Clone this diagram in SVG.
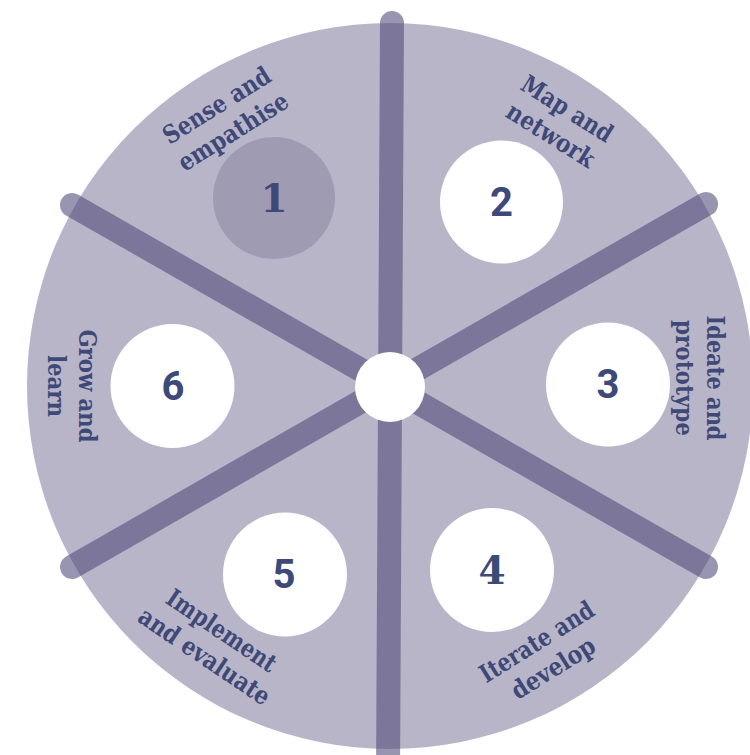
<svg xmlns="http://www.w3.org/2000/svg" width="750" height="755" viewBox="0 0 750 755">
<style>
.lbl{font-family:"DejaVu Serif","Liberation Serif",serif;font-weight:bold;font-size:25px;fill:#3f4977;text-anchor:middle}
.num{font-family:Roboto,"Liberation Sans",sans-serif;font-weight:bold;font-size:40px;fill:#3f4977;text-anchor:middle}
.nums{font-family:"DejaVu Serif","Liberation Serif",serif;font-weight:bold;font-size:39px;fill:#3f4977;text-anchor:middle}
.spoke{stroke:#534f7c;stroke-opacity:0.6;stroke-width:24;stroke-linecap:round;fill:none}
.disc{fill:#ffffff}
</style>
<rect width="750" height="755" fill="#ffffff"/>
<circle id="wheel" cx="390" cy="386" r="363" fill="#b8b5c9"/>
<g id="connectors">
<line class="spoke" x1="392" y1="23" x2="388" y2="775"/>
<line class="spoke" x1="72" y1="205" x2="706" y2="567"/>
<line class="spoke" x1="706" y1="204" x2="72" y2="567"/>
</g>
<circle id="hub" cx="390" cy="387" r="35" fill="#ffffff"/>
<g id="node1">
<circle cx="274" cy="198" r="61" fill="#9e9bb3"/>
<text class="nums" x="274" y="212">1</text>
<g transform="translate(225,118.5) rotate(-32)">
<text class="lbl" x="0" y="-7" textLength="122" lengthAdjust="spacingAndGlyphs">Sense and</text>
<text class="lbl" x="0" y="24" textLength="125" lengthAdjust="spacingAndGlyphs">empathise</text>
</g>
</g>
<g id="node2">
<circle class="disc" cx="501.5" cy="202" r="61.5"/>
<text class="num" x="501.5" y="216">2</text>
<g transform="translate(559,122) rotate(32)">
<text class="lbl" x="0" y="-7" textLength="103" lengthAdjust="spacingAndGlyphs">Map and</text>
<text class="lbl" x="0" y="24" textLength="99" lengthAdjust="spacingAndGlyphs">network</text>
</g>
</g>
<g id="node3">
<circle class="disc" cx="608" cy="384.5" r="62"/>
<text class="num" x="608" y="398">3</text>
<g transform="translate(700,378) rotate(90)">
<text class="lbl" x="0" y="-7" textLength="125" lengthAdjust="spacingAndGlyphs">Ideate and</text>
<text class="lbl" x="0" y="24" textLength="116" lengthAdjust="spacingAndGlyphs">prototype</text>
</g>
</g>
<g id="node4">
<circle class="disc" cx="492" cy="570" r="62"/>
<text class="nums" x="492" y="584">4</text>
<g transform="translate(545,655) rotate(-32)">
<text class="lbl" x="0" y="-7" textLength="130" lengthAdjust="spacingAndGlyphs">Iterate and</text>
<text class="lbl" x="0" y="24" textLength="94" lengthAdjust="spacingAndGlyphs">develop</text>
</g>
</g>
<g id="node5">
<circle class="disc" cx="285" cy="574.5" r="62"/>
<text class="num" x="284" y="588">5</text>
<g transform="translate(213,643.5) rotate(34)">
<text class="lbl" x="0" y="-7" textLength="127" lengthAdjust="spacingAndGlyphs">Implement</text>
<text class="lbl" x="0" y="24" textLength="153" lengthAdjust="spacingAndGlyphs">and evaluate</text>
</g>
</g>
<g id="node6">
<circle class="disc" cx="172.5" cy="386" r="62"/>
<text class="num" x="173" y="400">6</text>
<g transform="translate(72,386) rotate(90)">
<text class="lbl" x="0" y="-7" textLength="113" lengthAdjust="spacingAndGlyphs">Grow and</text>
<text class="lbl" x="0" y="24" textLength="62" lengthAdjust="spacingAndGlyphs">learn</text>
</g>
</g>
</svg>
